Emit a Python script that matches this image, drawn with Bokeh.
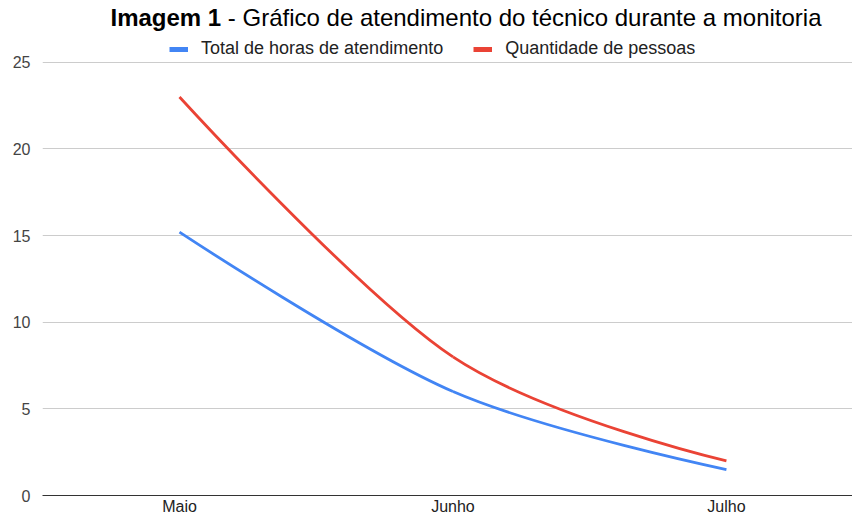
from bokeh.plotting import figure
from bokeh.models import (ColumnDataSource, FixedTicker, Legend, LegendItem, Div, Range1d)
from bokeh.layouts import column
from bokeh.embed import file_html
from bokeh.resources import INLINE

# ---- data ----
title_bold = "Imagem 1"
title_rest = " - Gráfico de atendimento do técnico durante a monitoria"
months = ["Maio", "Junho", "Julho"]
horas = [15.2, 6.0, 1.5]
pessoas = [23.0, 8.0, 2.0]
series_names = ["Total de horas de atendimento", "Quantidade de pessoas"]
series_colors = ["#4285F4", "#EA4335"]
y_ticks = [0, 5, 10, 15, 20, 25]

FONT = "Liberation Sans"


def smooth_segments(ys):
    """Catmull-Rom style cubic Bezier segments through the data points."""
    xs = list(range(len(ys)))
    n = len(xs)
    d = dict(x0=[], y0=[], x1=[], y1=[], cx0=[], cy0=[], cx1=[], cy1=[])
    for i in range(n - 1):
        if i == 0:
            c0x, c0y = xs[i], ys[i]
        else:
            c0x = xs[i] + (xs[i + 1] - xs[i - 1]) / 6
            c0y = ys[i] + (ys[i + 1] - ys[i - 1]) / 6
        if i + 1 == n - 1:
            c1x, c1y = xs[i + 1], ys[i + 1]
        else:
            c1x = xs[i + 1] - (xs[i + 2] - xs[i]) / 6
            c1y = ys[i + 1] - (ys[i + 2] - ys[i]) / 6
        d["x0"].append(xs[i]); d["y0"].append(ys[i])
        d["x1"].append(xs[i + 1]); d["y1"].append(ys[i + 1])
        d["cx0"].append(c0x); d["cy0"].append(c0y)
        d["cx1"].append(c1x); d["cy1"].append(c1y)
    return ColumnDataSource(d)


title = Div(
    text=f"<b>{title_bold}</b>{title_rest}",
    width=852, height=26,
    styles={"font-family": FONT, "font-size": "24px", "color": "#000",
            "text-align": "center", "line-height": "26px", "width": "852px",
            "padding-left": "70px", "box-sizing": "border-box",
            "white-space": "nowrap", "overflow": "visible"},
)

# frame: bottom at value 0, extra headroom above 25 holds the legend
p = figure(width=852, height=481, output_backend="svg", toolbar_location=None,
           x_range=Range1d(-0.501, 2.461), y_range=Range1d(0, 26.49),
           min_border_left=42, min_border_right=0, min_border_top=0,
           min_border_bottom=19)
p.outline_line_color = None
p.background_fill_color = "white"

renderers = []
for vals, color in zip([horas, pessoas], series_colors):
    src = smooth_segments(vals)
    p.bezier(x0="x0", y0="y0", x1="x1", y1="y1", cx0="cx0", cy0="cy0",
             cx1="cx1", cy1="cy1", source=src, line_color=color, line_width=2.8)
    # single-point line: draws nothing in the plot, gives the legend swatch
    dummy = p.line(x=[0], y=[vals[0]], line_color=color, line_width=5)
    renderers.append(dummy)

legend = Legend(items=[LegendItem(label=n, renderers=[r]) for n, r in zip(series_names, renderers)],
                orientation="horizontal", location=(127, 436))
legend.label_text_font = FONT
legend.label_text_font_size = "18px"
legend.label_text_color = "#222222"
legend.glyph_width = 19
legend.glyph_height = 18
legend.label_height = 18
legend.label_standoff = 13
legend.spacing = 30
legend.padding = 2
legend.margin = 0
legend.border_line_color = None
legend.background_fill_alpha = 0
p.add_layout(legend, "center")

# axes
xa = p.xaxis[0]
xa.ticker = FixedTicker(ticks=list(range(len(months))))
xa.major_label_overrides = {i: m for i, m in enumerate(months)}
xa.major_tick_line_color = None
xa.minor_tick_line_color = None
xa.axis_line_color = "#333333"
xa.axis_line_width = 1
xa.major_label_text_font = FONT
xa.major_label_text_font_size = "16px"
xa.major_label_text_color = "#222222"
xa.major_label_standoff = 2
xa.major_tick_out = 0

ya = p.yaxis[0]
ya.ticker = FixedTicker(ticks=y_ticks)
ya.major_tick_line_color = None
ya.minor_tick_line_color = None
ya.axis_line_color = None
ya.major_label_text_font = FONT
ya.major_label_text_font_size = "16px"
ya.major_label_text_color = "#444444"
ya.major_label_standoff = 12
ya.major_tick_out = 0

p.xgrid.grid_line_color = None
p.ygrid.grid_line_color = "#cccccc"
p.ygrid.grid_line_width = 1

layout = column(title, p, spacing=0)
open("out.html", "w").write(file_html(layout, INLINE))
